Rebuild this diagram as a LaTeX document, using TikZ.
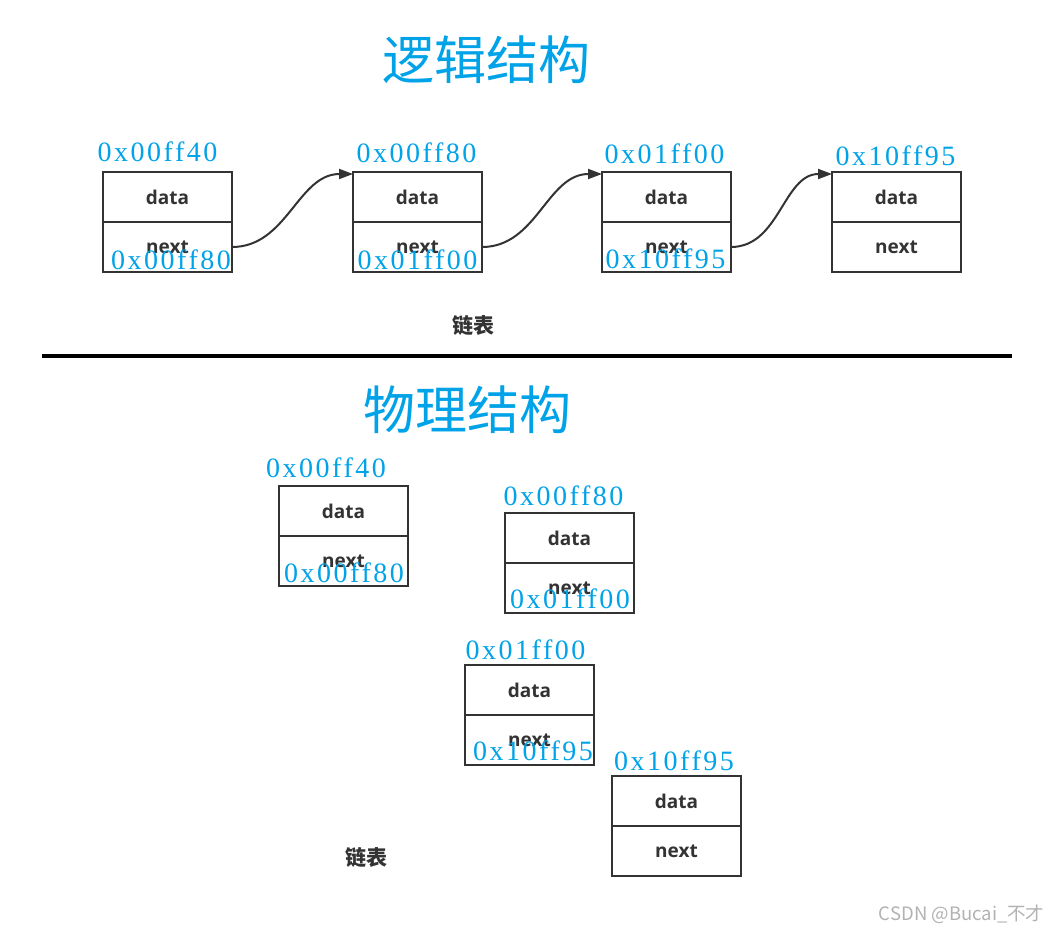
\documentclass[tikz,border=0pt]{standalone}
\usepackage{fontspec}
\usetikzlibrary{positioning,arrows.meta}
\setmainfont{Open Sans}
\newfontfamily\cjk{Noto Sans CJK SC}
\newfontfamily\hexfont[LetterSpace=9]{Liberation Serif}
\definecolor{addr}{RGB}{0,162,232}
\definecolor{ink}{RGB}{51,51,51}

\begin{document}
\begin{tikzpicture}[x=1pt,y=-1pt,
      cell/.style = {draw=ink, line width=2.8pt, minimum width=129pt,
        minimum height=50pt, inner sep=0pt, outer sep=0pt, text=ink,
        font=\bfseries\fontsize{19}{19}\selectfont},
      hex/.style = {text=addr, inner sep=0pt, anchor=base,
        font=\hexfont\fontsize{28}{28}\selectfont},
      title/.style = {text=addr, font=\cjk\fontsize{52}{52}\selectfont},
      caption/.style = {text=ink, font=\cjk\bfseries\fontsize{21}{21}\selectfont},
      link/.style = {draw=ink, line width=2pt, -{Triangle[length=14pt,width=10pt]}}]
  \useasboundingbox (0,0) rectangle (1053,932);

  % logical structure
  \node[title] (t1) at (486,60) {逻辑结构};
  \node[cell] (d1) at (167.5,197) {data};
  \node[cell, below=0pt of d1] (n1) {next};
  \node[cell] (d2) at (417.5,197) {data};
  \node[cell, below=0pt of d2] (n2) {next};
  \node[cell] (d3) at (666.5,197) {data};
  \node[cell, below=0pt of d3] (n3) {next};
  \node[cell] (d4) at (896.5,197) {data};
  \node[cell, below=0pt of d4] (n4) {next};

  \node[hex] (a1) at ([xshift=-10pt,yshift=11pt]d1.north) {0x00ff40};
  \node[hex] (a2) at ([xshift=-1pt,yshift=10pt]d2.north) {0x00ff80};
  \node[hex] (a3) at ([xshift=-2pt,yshift=9pt]d3.north) {0x01ff00};
  \node[hex] (a4) at ([xshift=-1pt,yshift=7pt]d4.north) {0x10ff95};
  \node[hex] (p1) at ([xshift=3.5pt,yshift=3pt]n1.south) {0x00ff80};
  \node[hex] (p2) at ([xshift=0pt,yshift=3pt]n2.south) {0x01ff00};
  \node[hex] (p3) at ([xshift=-1pt,yshift=4pt]n3.south) {0x10ff95};

  \draw[link] (n1.east) to[out=0,in=180] ([yshift=-2pt]d2.north west);
  \draw[link] (n2.east) to[out=0,in=180] ([yshift=-2pt]d3.north west);
  \draw[link] (n3.east) to[out=0,in=180] ([yshift=-2pt]d4.north west);

  \node[caption] (c1) at (473,326) {链表};

  % separator
  \draw[line width=4pt] (42,356) -- (1012,356);

  % physical structure
  \node[title] (t2) at (467,410) {物理结构};
  \node[cell] (pd1) at (343.5,511) {data};
  \node[cell, below=0pt of pd1] (pn1) {next};
  \node[cell] (pd2) at (569.5,538) {data};
  \node[cell, below=0pt of pd2] (pn2) {next};
  \node[cell] (pd3) at (529.5,690) {data};
  \node[cell, below=0pt of pd3] (pn3) {next};
  \node[cell] (pd4) at (676.5,801) {data};
  \node[cell, below=0pt of pd4] (pn4) {next};

  \node[hex] (pa1) at ([xshift=-17.5pt,yshift=9pt]pd1.north) {0x00ff40};
  \node[hex] (pa2) at ([xshift=-6pt,yshift=8pt]pd2.north) {0x00ff80};
  \node[hex] (pa3) at ([xshift=-4pt,yshift=6pt]pd3.north) {0x01ff00};
  \node[hex] (pa4) at ([xshift=-2.5pt,yshift=6pt]pd4.north) {0x10ff95};
  \node[hex] (pp1) at ([xshift=0.5pt,yshift=4pt]pn1.south) {0x00ff80};
  \node[hex] (pp2) at ([xshift=0.5pt,yshift=5pt]pn2.south) {0x01ff00};
  \node[hex] (pp3) at ([xshift=3.5pt,yshift=5pt]pn3.south) {0x10ff95};

  \node[caption] (c2) at (366,858) {链表};

  \node[anchor=east, text=black!30, font=\cjk\fontsize{18.5}{18.5}\selectfont]
    (wm) at (1048,914) {CSDN @Bucai\_不才};
\end{tikzpicture}
\end{document}
